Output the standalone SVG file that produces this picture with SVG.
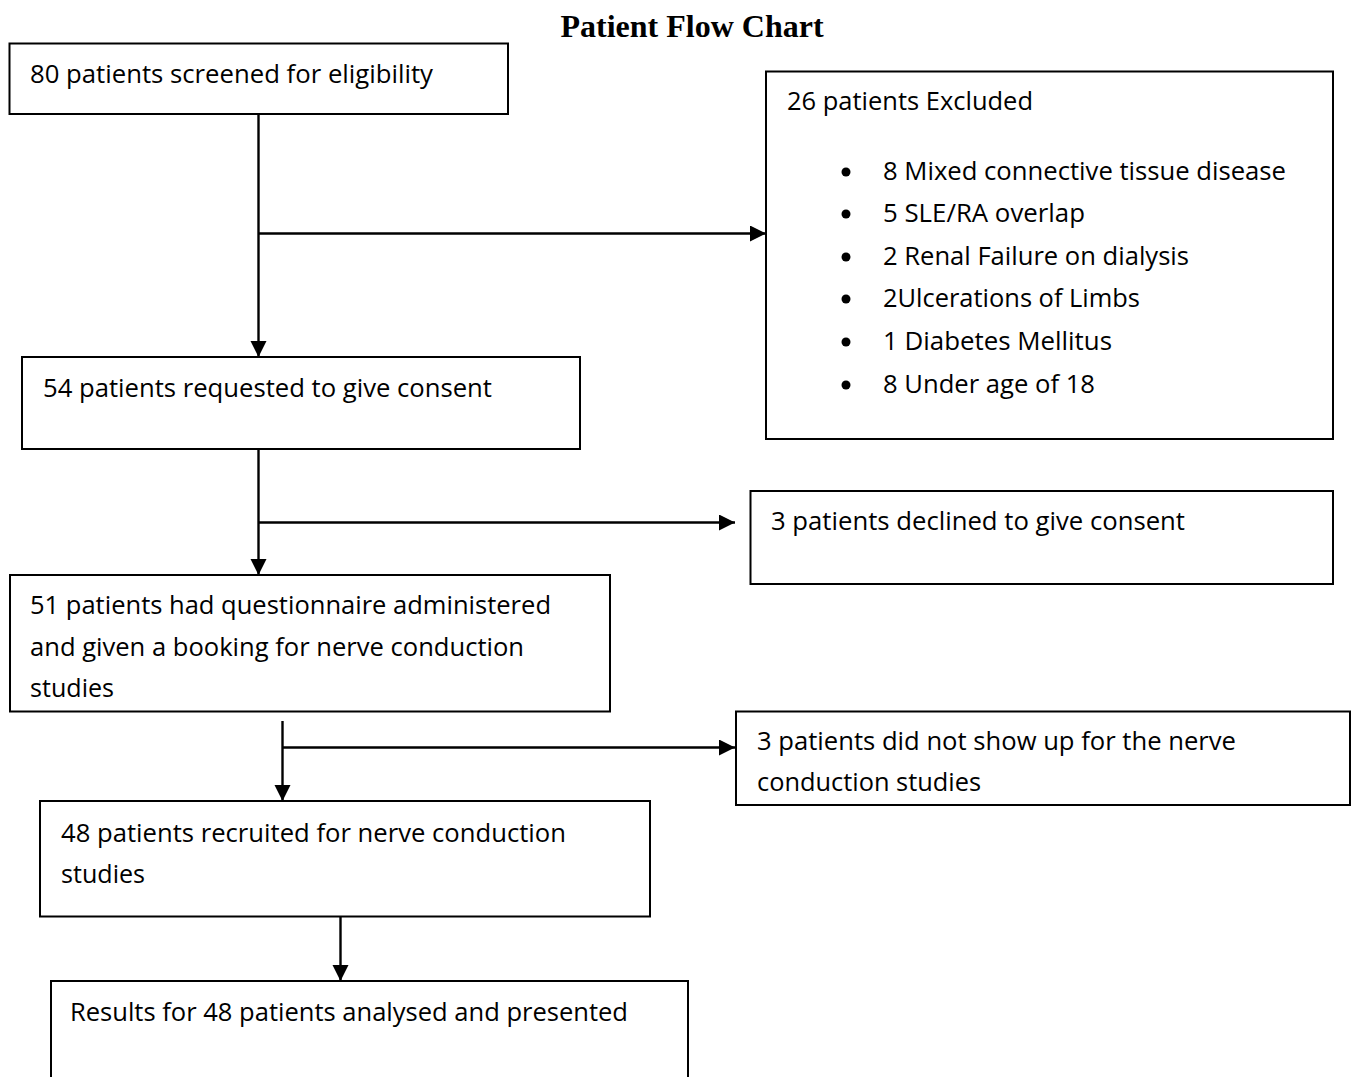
<svg xmlns="http://www.w3.org/2000/svg" width="1351" height="1077" viewBox="0 0 1351 1077">
<style>
.box{fill:#fff;stroke:#000;stroke-width:2}
.t{font-family:"Open Sans","Liberation Sans",sans-serif;font-size:25px;fill:#000}
.title{font-family:"Liberation Serif","Times New Roman",serif;font-size:32px;font-weight:bold;fill:#000}
.c{fill:none;stroke:#000;stroke-width:2.4}
</style>
<defs>
<marker id="ah" markerUnits="userSpaceOnUse" markerWidth="17" markerHeight="17" refX="16" refY="8" orient="auto">
<path d="M0,0 L16,8 L0,16 Z" fill="#000"/>
</marker>
</defs>
<rect width="1351" height="1077" fill="#fff"/>
<text class="title" x="692" y="37" text-anchor="middle">Patient Flow Chart</text>
<g id="connectors">
<path class="c" d="M258.5,114 V357" marker-end="url(#ah)"/>
<path class="c" d="M258.5,233.5 H766" marker-end="url(#ah)"/>
<path class="c" d="M258.5,449 V575" marker-end="url(#ah)"/>
<path class="c" d="M258.5,522.5 H735" marker-end="url(#ah)"/>
<path class="c" d="M282.5,721 V801" marker-end="url(#ah)"/>
<path class="c" d="M282.5,747.5 H735" marker-end="url(#ah)"/>
<path class="c" d="M340.5,916 V981" marker-end="url(#ah)"/>
</g>
<g id="n1">
<rect class="box" x="9.5" y="43.5" width="498.5" height="70.5"/>
<text class="t" x="30" y="83" textLength="403" lengthAdjust="spacingAndGlyphs">80 patients screened for eligibility</text>
</g>
<g id="n2">
<rect class="box" x="766" y="71.5" width="567" height="367.5"/>
<text class="t" x="787" y="110" textLength="246" lengthAdjust="spacingAndGlyphs">26 patients Excluded</text>
<g fill="#000">
<circle cx="846" cy="172" r="4.5"/>
<circle cx="846" cy="214" r="4.5"/>
<circle cx="846" cy="257" r="4.5"/>
<circle cx="846" cy="299" r="4.5"/>
<circle cx="846" cy="342" r="4.5"/>
<circle cx="846" cy="385" r="4.5"/>
</g>
<text class="t" x="883" y="180" textLength="403" lengthAdjust="spacingAndGlyphs">8 Mixed connective tissue disease</text>
<text class="t" x="883" y="222" textLength="202" lengthAdjust="spacingAndGlyphs">5 SLE/RA overlap</text>
<text class="t" x="883" y="265" textLength="306" lengthAdjust="spacingAndGlyphs">2 Renal Failure on dialysis</text>
<text class="t" x="883" y="307" textLength="257" lengthAdjust="spacingAndGlyphs">2Ulcerations of Limbs</text>
<text class="t" x="883" y="350" textLength="229" lengthAdjust="spacingAndGlyphs">1 Diabetes Mellitus</text>
<text class="t" x="883" y="393" textLength="212" lengthAdjust="spacingAndGlyphs">8 Under age of 18</text>
</g>
<g id="n3">
<rect class="box" x="22" y="357" width="558" height="92"/>
<text class="t" x="43" y="397" textLength="449" lengthAdjust="spacingAndGlyphs">54 patients requested to give consent</text>
</g>
<g id="n4">
<rect class="box" x="750.5" y="491" width="582.5" height="93"/>
<text class="t" x="771" y="530" textLength="414" lengthAdjust="spacingAndGlyphs">3 patients declined to give consent</text>
</g>
<g id="n5">
<rect class="box" x="10" y="575" width="600" height="136.5"/>
<text class="t" x="30" y="614" textLength="521" lengthAdjust="spacingAndGlyphs">51 patients had questionnaire administered</text>
<text class="t" x="30" y="656" textLength="494" lengthAdjust="spacingAndGlyphs">and given a booking for nerve conduction</text>
<text class="t" x="30" y="697" textLength="84" lengthAdjust="spacingAndGlyphs">studies</text>
</g>
<g id="n6">
<rect class="box" x="736" y="711.5" width="614" height="93.5"/>
<text class="t" x="757" y="750" textLength="479" lengthAdjust="spacingAndGlyphs">3 patients did not show up for the nerve</text>
<text class="t" x="757" y="791" textLength="224" lengthAdjust="spacingAndGlyphs">conduction studies</text>
</g>
<g id="n7">
<rect class="box" x="40" y="801" width="610" height="115.5"/>
<text class="t" x="61" y="842" textLength="505" lengthAdjust="spacingAndGlyphs">48 patients recruited for nerve conduction</text>
<text class="t" x="61" y="883" textLength="84" lengthAdjust="spacingAndGlyphs">studies</text>
</g>
<g id="n8">
<rect class="box" x="51" y="981" width="637" height="110"/>
<text class="t" x="70" y="1021" textLength="558" lengthAdjust="spacingAndGlyphs">Results for 48 patients analysed and presented</text>
</g>
</svg>
